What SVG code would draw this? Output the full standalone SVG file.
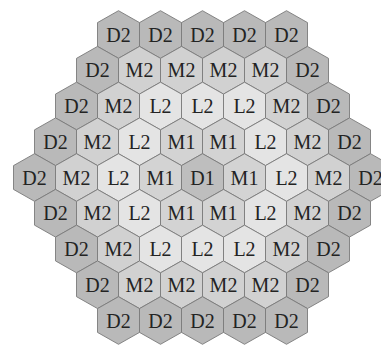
<svg xmlns="http://www.w3.org/2000/svg" xmlns:xlink="http://www.w3.org/1999/xlink" width="381" height="345" viewBox="0 0 381 345">
<defs>
<polygon id="h" points="0,-23.8 21,-11.9 21,11.9 0,23.8 -21,11.9 -21,-11.9"/>
</defs>
<style>
.D2{fill:#b9b9b9}
.M2{fill:#d1d1d1}
.L2{fill:#e4e4e4}
.M1{fill:#d3d3d3}
.D1{fill:#bebebe}
use{stroke:#7a7a7a;stroke-width:0.9}
text{font-family:"Liberation Serif","Times New Roman",serif;font-size:20px;fill:#232323;text-anchor:middle}
</style>
<rect width="381" height="345" fill="#ffffff"/>
<g id="connectors"/>
<g id="r0">
<g id="n0_0" transform="translate(118.5,34.5)"><use href="#h" class="D2"/><text y="7">D2</text></g>
<g id="n0_1" transform="translate(160.5,34.5)"><use href="#h" class="D2"/><text y="7">D2</text></g>
<g id="n0_2" transform="translate(202.5,34.5)"><use href="#h" class="D2"/><text y="7">D2</text></g>
<g id="n0_3" transform="translate(244.5,34.5)"><use href="#h" class="D2"/><text y="7">D2</text></g>
<g id="n0_4" transform="translate(286.5,34.5)"><use href="#h" class="D2"/><text y="7">D2</text></g>
</g>
<g id="r1">
<g id="n1_0" transform="translate(97.5,70.25)"><use href="#h" class="D2"/><text y="7">D2</text></g>
<g id="n1_1" transform="translate(139.5,70.25)"><use href="#h" class="M2"/><text y="7">M2</text></g>
<g id="n1_2" transform="translate(181.5,70.25)"><use href="#h" class="M2"/><text y="7">M2</text></g>
<g id="n1_3" transform="translate(223.5,70.25)"><use href="#h" class="M2"/><text y="7">M2</text></g>
<g id="n1_4" transform="translate(265.5,70.25)"><use href="#h" class="M2"/><text y="7">M2</text></g>
<g id="n1_5" transform="translate(307.5,70.25)"><use href="#h" class="D2"/><text y="7">D2</text></g>
</g>
<g id="r2">
<g id="n2_0" transform="translate(76.5,106)"><use href="#h" class="D2"/><text y="7">D2</text></g>
<g id="n2_1" transform="translate(118.5,106)"><use href="#h" class="M2"/><text y="7">M2</text></g>
<g id="n2_2" transform="translate(160.5,106)"><use href="#h" class="L2"/><text y="7">L2</text></g>
<g id="n2_3" transform="translate(202.5,106)"><use href="#h" class="L2"/><text y="7">L2</text></g>
<g id="n2_4" transform="translate(244.5,106)"><use href="#h" class="L2"/><text y="7">L2</text></g>
<g id="n2_5" transform="translate(286.5,106)"><use href="#h" class="M2"/><text y="7">M2</text></g>
<g id="n2_6" transform="translate(328.5,106)"><use href="#h" class="D2"/><text y="7">D2</text></g>
</g>
<g id="r3">
<g id="n3_0" transform="translate(55.5,141.75)"><use href="#h" class="D2"/><text y="7">D2</text></g>
<g id="n3_1" transform="translate(97.5,141.75)"><use href="#h" class="M2"/><text y="7">M2</text></g>
<g id="n3_2" transform="translate(139.5,141.75)"><use href="#h" class="L2"/><text y="7">L2</text></g>
<g id="n3_3" transform="translate(181.5,141.75)"><use href="#h" class="M1"/><text y="7">M1</text></g>
<g id="n3_4" transform="translate(223.5,141.75)"><use href="#h" class="M1"/><text y="7">M1</text></g>
<g id="n3_5" transform="translate(265.5,141.75)"><use href="#h" class="L2"/><text y="7">L2</text></g>
<g id="n3_6" transform="translate(307.5,141.75)"><use href="#h" class="M2"/><text y="7">M2</text></g>
<g id="n3_7" transform="translate(349.5,141.75)"><use href="#h" class="D2"/><text y="7">D2</text></g>
</g>
<g id="r4">
<g id="n4_0" transform="translate(34.5,177.5)"><use href="#h" class="D2"/><text y="7">D2</text></g>
<g id="n4_1" transform="translate(76.5,177.5)"><use href="#h" class="M2"/><text y="7">M2</text></g>
<g id="n4_2" transform="translate(118.5,177.5)"><use href="#h" class="L2"/><text y="7">L2</text></g>
<g id="n4_3" transform="translate(160.5,177.5)"><use href="#h" class="M1"/><text y="7">M1</text></g>
<g id="n4_4" transform="translate(202.5,177.5)"><use href="#h" class="D1"/><text y="7">D1</text></g>
<g id="n4_5" transform="translate(244.5,177.5)"><use href="#h" class="M1"/><text y="7">M1</text></g>
<g id="n4_6" transform="translate(286.5,177.5)"><use href="#h" class="L2"/><text y="7">L2</text></g>
<g id="n4_7" transform="translate(328.5,177.5)"><use href="#h" class="M2"/><text y="7">M2</text></g>
<g id="n4_8" transform="translate(370.5,177.5)"><use href="#h" class="D2"/><text y="7">D2</text></g>
</g>
<g id="r5">
<g id="n5_0" transform="translate(55.5,213.25)"><use href="#h" class="D2"/><text y="7">D2</text></g>
<g id="n5_1" transform="translate(97.5,213.25)"><use href="#h" class="M2"/><text y="7">M2</text></g>
<g id="n5_2" transform="translate(139.5,213.25)"><use href="#h" class="L2"/><text y="7">L2</text></g>
<g id="n5_3" transform="translate(181.5,213.25)"><use href="#h" class="M1"/><text y="7">M1</text></g>
<g id="n5_4" transform="translate(223.5,213.25)"><use href="#h" class="M1"/><text y="7">M1</text></g>
<g id="n5_5" transform="translate(265.5,213.25)"><use href="#h" class="L2"/><text y="7">L2</text></g>
<g id="n5_6" transform="translate(307.5,213.25)"><use href="#h" class="M2"/><text y="7">M2</text></g>
<g id="n5_7" transform="translate(349.5,213.25)"><use href="#h" class="D2"/><text y="7">D2</text></g>
</g>
<g id="r6">
<g id="n6_0" transform="translate(76.5,249)"><use href="#h" class="D2"/><text y="7">D2</text></g>
<g id="n6_1" transform="translate(118.5,249)"><use href="#h" class="M2"/><text y="7">M2</text></g>
<g id="n6_2" transform="translate(160.5,249)"><use href="#h" class="L2"/><text y="7">L2</text></g>
<g id="n6_3" transform="translate(202.5,249)"><use href="#h" class="L2"/><text y="7">L2</text></g>
<g id="n6_4" transform="translate(244.5,249)"><use href="#h" class="L2"/><text y="7">L2</text></g>
<g id="n6_5" transform="translate(286.5,249)"><use href="#h" class="M2"/><text y="7">M2</text></g>
<g id="n6_6" transform="translate(328.5,249)"><use href="#h" class="D2"/><text y="7">D2</text></g>
</g>
<g id="r7">
<g id="n7_0" transform="translate(97.5,284.75)"><use href="#h" class="D2"/><text y="7">D2</text></g>
<g id="n7_1" transform="translate(139.5,284.75)"><use href="#h" class="M2"/><text y="7">M2</text></g>
<g id="n7_2" transform="translate(181.5,284.75)"><use href="#h" class="M2"/><text y="7">M2</text></g>
<g id="n7_3" transform="translate(223.5,284.75)"><use href="#h" class="M2"/><text y="7">M2</text></g>
<g id="n7_4" transform="translate(265.5,284.75)"><use href="#h" class="M2"/><text y="7">M2</text></g>
<g id="n7_5" transform="translate(307.5,284.75)"><use href="#h" class="D2"/><text y="7">D2</text></g>
</g>
<g id="r8">
<g id="n8_0" transform="translate(118.5,320.5)"><use href="#h" class="D2"/><text y="7">D2</text></g>
<g id="n8_1" transform="translate(160.5,320.5)"><use href="#h" class="D2"/><text y="7">D2</text></g>
<g id="n8_2" transform="translate(202.5,320.5)"><use href="#h" class="D2"/><text y="7">D2</text></g>
<g id="n8_3" transform="translate(244.5,320.5)"><use href="#h" class="D2"/><text y="7">D2</text></g>
<g id="n8_4" transform="translate(286.5,320.5)"><use href="#h" class="D2"/><text y="7">D2</text></g>
</g>
</svg>
